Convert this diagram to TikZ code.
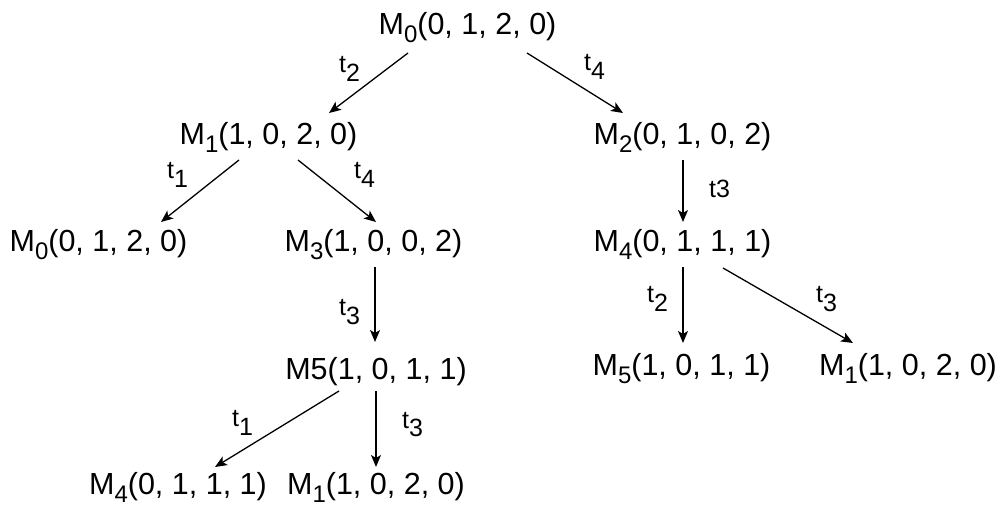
\documentclass[tikz,border=0pt]{standalone}
\usepackage{fontspec}
\setmainfont{Liberation Sans}
\usetikzlibrary{arrows.meta}

% marking with subscripted index
\newcommand\marking[2]{M\raisebox{-8pt}{\fontsize{24}{24}\selectfont #1}(#2)}
% transition label with subscripted index
\newcommand\trans[1]{t\raisebox{-9pt}{#1}}

\begin{document}
\begin{tikzpicture}[x=1pt,y=-1pt,
  state/.style={inner sep=0pt,anchor=base,font=\fontsize{30.5}{36}\selectfont},
  tlabel/.style={inner sep=0pt,anchor=base west,font=\fontsize{25}{29}\selectfont},
  arr/.style={line width=1.3pt,-{Stealth[length=12pt,width=10pt,inset=3pt]}}]
\useasboundingbox (0,0) rectangle (1005,505);

% states of the reachability tree
\node[state] (m0)  at (467.5,35)  {\marking{0}{0, 1, 2, 0}};
\node[state] (m1)  at (268.5,145) {\marking{1}{1, 0, 2, 0}};
\node[state] (m2)  at (682.5,145) {\marking{2}{0, 1, 0, 2}};
\node[state] (m0b) at (98.5,252)  {\marking{0}{0, 1, 2, 0}};
\node[state] (m3)  at (373.5,252) {\marking{3}{1, 0, 0, 2}};
\node[state] (m4)  at (682.5,252) {\marking{4}{0, 1, 1, 1}};
\node[state] (m5)  at (376,380)   {M5(1, 0, 1, 1)};
\node[state] (m5b) at (681.5,375) {\marking{5}{1, 0, 1, 1}};
\node[state] (m1b) at (908,375)   {\marking{1}{1, 0, 2, 0}};
\node[state] (m4b) at (178,494)   {\marking{4}{0, 1, 1, 1}};
\node[state] (m1c) at (376,494)   {\marking{1}{1, 0, 2, 0}};

% firing arcs
\draw[arr] ([shift={(-59.5,18)}]m0.base) -- ([shift={(60.5,-32)}]m1.base);
\draw[arr] ([shift={(59.5,18)}]m0.base) -- ([shift={(-59.5,-32)}]m2.base);
\draw[arr] ([shift={(-29.5,15)}]m1.base) -- ([shift={(62.5,-30)}]m0b.base);
\draw[arr] ([shift={(29.5,15)}]m1.base) -- ([shift={(2.5,-30)}]m3.base);
\draw[arr] ([shift={(0.5,15)}]m2.base) -- ([shift={(0.5,-30)}]m4.base);
\draw[arr] ([shift={(1.5,15)}]m3.base) -- ([shift={(-1,-38)}]m5.base);
\draw[arr] ([shift={(0.5,15)}]m4.base) -- ([shift={(1.5,-32)}]m5b.base);
\draw[arr] ([shift={(40.5,16)}]m4.base) -- ([shift={(-55,-32)}]m1b.base);
\draw[arr] ([shift={(-37,11)}]m5.base) -- ([shift={(37,-27)}]m4b.base);
\draw[arr] ([shift={(0,11)}]m5.base) -- ([shift={(0,-27)}]m1c.base);

% transition labels
\node[tlabel] (l1)  at (339,73)  {\trans{2}};
\node[tlabel] (l2)  at (584,71)  {\trans{4}};
\node[tlabel] (l3)  at (167,179) {\trans{1}};
\node[tlabel] (l4)  at (354,179) {\trans{4}};
\node[tlabel] (l5)  at (709,198) {t3};
\node[tlabel] (l6)  at (339,316) {\trans{3}};
\node[tlabel] (l7)  at (647,303) {\trans{2}};
\node[tlabel] (l8)  at (816,303) {\trans{3}};
\node[tlabel] (l9)  at (232,426) {\trans{1}};
\node[tlabel] (l10) at (402,428) {\trans{3}};
\end{tikzpicture}
\end{document}
